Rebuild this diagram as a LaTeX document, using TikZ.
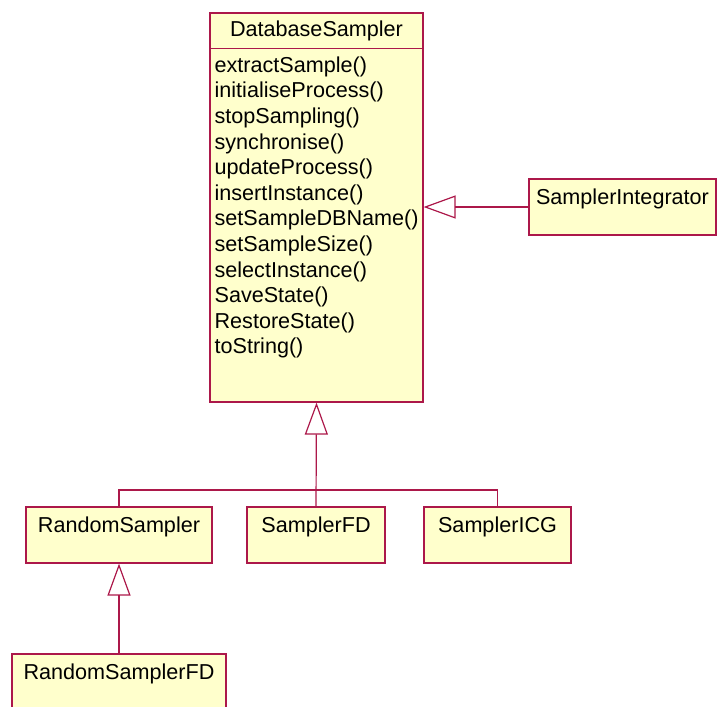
\documentclass[tikz,border=0pt]{standalone}
\usepackage{fontspec}
\setmainfont{Liberation Sans}
\usepackage{tikz}
\usetikzlibrary{arrows.meta,positioning,calc}
\definecolor{umlred}{RGB}{172,24,74}
\definecolor{umlfill}{RGB}{255,255,204}

\begin{document}
\begin{tikzpicture}[x=1pt, y=-1pt, line width=1.2pt,
  font=\fontsize{21.6}{25.6}\selectfont,
  cls/.style={draw=umlred, fill=umlfill, inner sep=0pt, text height=25pt, text depth=31pt, minimum width=#1},
  bigcls/.style={draw=umlred, fill=umlfill, inner sep=0pt, minimum width=213pt, minimum height=389pt},
  ops/.style={anchor=north west, align=left, inner sep=0pt},
  inh/.style={draw=umlred, -{Triangle[open, length=32pt, width=23pt]}},
  lnk/.style={draw=umlred}]
\useasboundingbox (0,0) rectangle (718,707);
\clip (0,0) rectangle (718,707);
% superclass
\node[bigcls] (db) at (316.5,207.5) {};
\node (dbname) at (316.5,31) {DatabaseSampler};
\draw[lnk] ($(db.north west)+(0,36)$) -- ($(db.north east)+(0,36)$);
\node[ops] (dbops) at (214,56) {extractSample()\\initialiseProcess()\\stopSampling()\\synchronise()\\updateProcess()\\insertInstance()\\setSampleDBName()\\setSampleSize()\\selectInstance()\\SaveState()\\RestoreState()\\toString()};
% subclasses
\node[cls=187pt] (si) at (622.5,207) {SamplerIntegrator};
\node[cls=186pt] (rs) at (119,535) {RandomSampler};
\node[cls=138pt] (sfd) at (316,535) {SamplerFD};
\node[cls=147pt] (sicg) at (497.5,535) {SamplerICG};
\node[cls=214pt] (rsfd) at (119,682) {RandomSamplerFD};
\coordinate (fork) at (316,490);
% generalisations
\draw[inh] (si.west) -- (si.west -| db.east);
\draw[inh] (sfd.north) -- (db.south);
\draw[lnk] (rs.north) |- (fork) -| (sicg.north);
\draw[inh] (rsfd.north) -- (rs.south);
\end{tikzpicture}
\end{document}
